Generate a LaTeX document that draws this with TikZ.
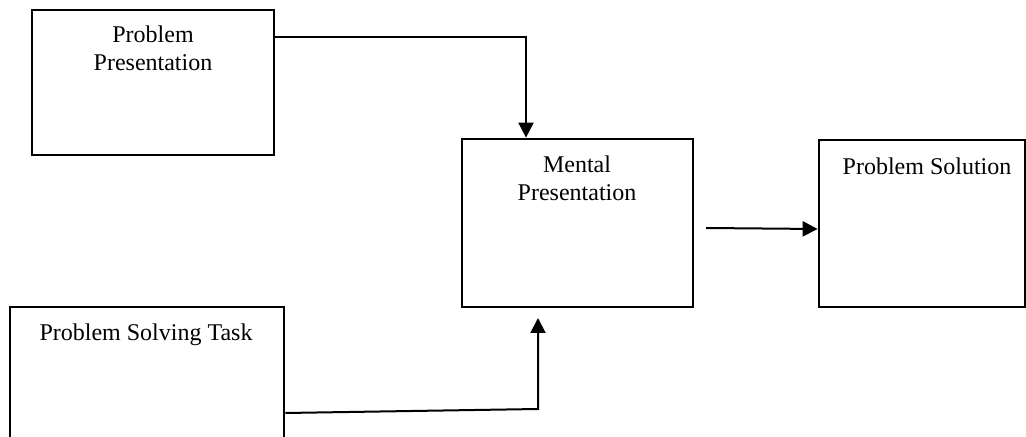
\documentclass[tikz,border=0pt]{standalone}
\usepackage{fontspec}
\setmainfont{Liberation Serif}
\usetikzlibrary{arrows.meta,fit,calc}
\begin{document}
\begin{tikzpicture}[x=0.5pt,y=-0.5pt,
  box/.style={draw, line width=1.35pt, inner sep=0pt},
  lbl/.style={font=\fontsize{12pt}{14pt}\selectfont, align=center, inner sep=0pt, anchor=north},
  arr/.style={line width=1pt, -{Triangle[length=7.5pt,width=7.5pt]}}]
\clip (0,0) rectangle (1026,437);
% boxes
\node[box, fit={(32,10) (274,155)}] (b1) {};
\node[box, fit={(462,139) (693,307)}] (b2) {};
\node[box, fit={(819,140) (1025,307)}] (b3) {};
\node[box, fit={(10,307) (284,460)}] (b4) {};
% labels
\node[lbl] (t1) at (153,25) {Problem\\Presentation};
\node[lbl] (t2) at (577,155) {Mental\\Presentation};
\node[lbl] (t3) at (927,157) {Problem Solution};
\node[lbl] (t4) at (146,323) {Problem Solving Task};
% helper coordinates
\coordinate (c1) at (526,37);
\coordinate (c2) at (706,228);
\coordinate (c4) at (284,413);
\coordinate (c5) at (538,409);
\coordinate (c6) at (538,318);
% connectors
\draw[arr] (b1.east |- c1) -| (b2.north -| c1);
\draw[arr] (c2) -- ($(b3.west)+(0,5.5)$);
\draw[arr] (b4.east |- c4) -- (c5) -- (c6);
\end{tikzpicture}
\end{document}
